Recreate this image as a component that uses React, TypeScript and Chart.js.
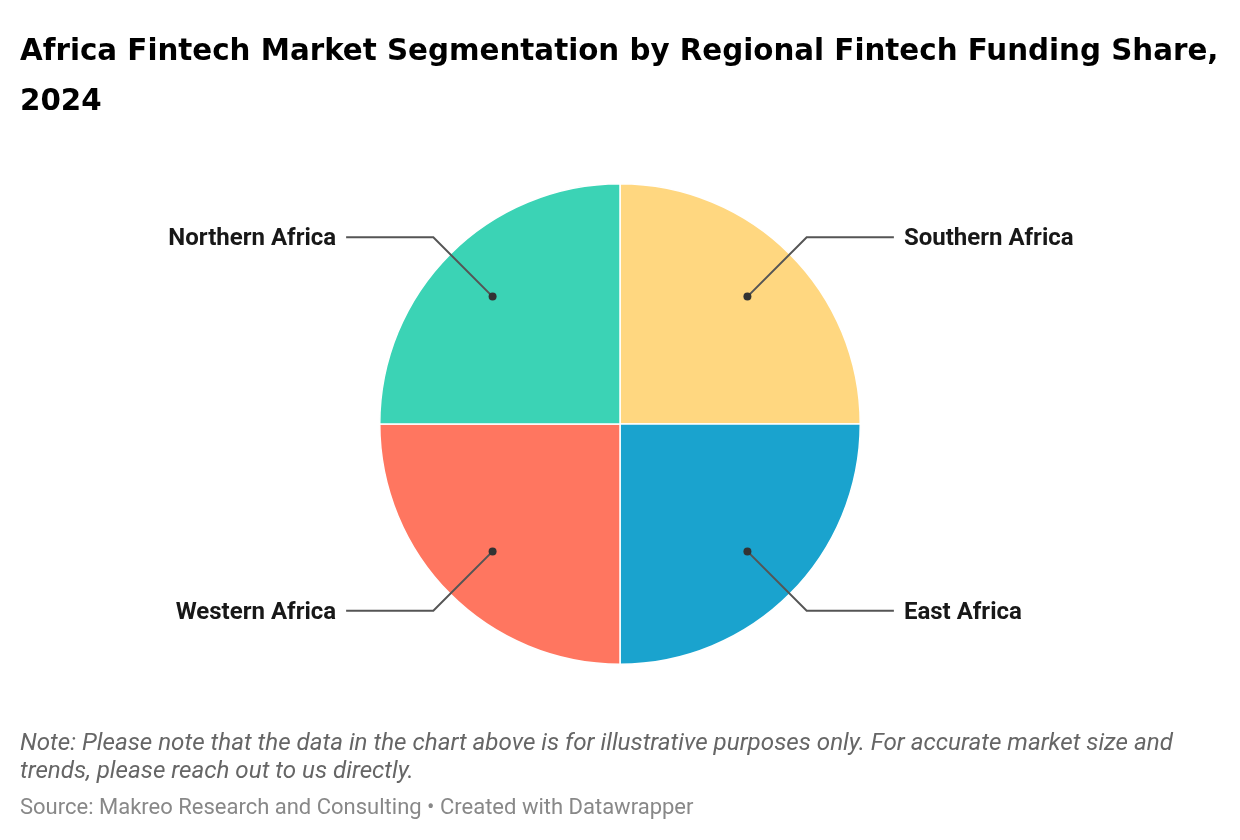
import { useRef, useEffect } from "react";
import { Chart, registerables, type Plugin } from "chart.js";

Chart.register(...registerables);

const REGIONS = ["Southern Africa", "East Africa", "Western Africa", "Northern Africa"];
const SHARES = [25, 25, 25, 25];
const COLORS = ["#FFD780", "#1AA3CE", "#FF7660", "#3BD3B5"];

const TITLE = "Africa Fintech Market Segmentation by Regional Fintech Funding Share, 2024";
const NOTE = "Note: Please note that the data in the chart above is for illustrative purposes only. For accurate market size and trends, please reach out to us directly.";
const SOURCE = "Source: Makreo Research and Consulting • Created with Datawrapper";

// leader lines + outside labels, anchored on each arc's centre
const leaderLabels: Plugin<"pie"> = {
  id: "leaderLabels",
  afterDatasetsDraw(chart) {
    const { ctx } = chart;
    chart.getDatasetMeta(0).data.forEach((el: any, i: number) => {
      const { x, y, outerRadius, startAngle, endAngle } = el;
      const mid = (startAngle + endAngle) / 2;
      const dotX = x + Math.cos(mid) * outerRadius * 0.75;
      const dotY = y + Math.sin(mid) * outerRadius * 0.75;
      const sx = Math.sign(Math.cos(mid));
      const sy = Math.sign(Math.sin(mid));
      const elbowX = x + sx * outerRadius * 0.777;
      const elbowY = y + sy * outerRadius * 0.777;
      const endX = x + sx * outerRadius * 1.14;

      ctx.save();
      ctx.strokeStyle = "#555555";
      ctx.lineWidth = 2;
      ctx.beginPath();
      ctx.moveTo(dotX, dotY);
      ctx.lineTo(elbowX, elbowY);
      ctx.lineTo(endX, elbowY);
      ctx.stroke();

      ctx.fillStyle = "#333333";
      ctx.beginPath();
      ctx.arc(dotX, dotY, 4, 0, Math.PI * 2);
      ctx.fill();

      ctx.fillStyle = "#181818";
      ctx.font = 'bold 24px Roboto, sans-serif';
      ctx.textBaseline = "middle";
      ctx.textAlign = sx > 0 ? "left" : "right";
      ctx.fillText(REGIONS[i], endX + sx * 10, elbowY + 2);
      ctx.restore();
    });
  },
};

export default function App() {
  const ref = useRef<HTMLCanvasElement>(null);

  useEffect(() => {
    if (!ref.current) return;
    const chart = new Chart(ref.current, {
      type: "pie",
      data: {
        labels: REGIONS,
        datasets: [{
          data: SHARES,
          backgroundColor: COLORS,
          borderColor: "#FFFFFF",
          borderWidth: 1.5,
        }],
      },
      options: {
        responsive: false,
        animation: false,
        layout: { padding: { top: 183, bottom: 175, left: 0, right: 0 } },
        plugins: {
          legend: { display: false },
          tooltip: { enabled: false },
          title: { display: false },
        },
      },
      plugins: [leaderLabels],
    });
    return () => { chart.destroy(); };
  }, []);

  return (
    <div style={{ position: "absolute", left: 0, top: 0, width: 1240, height: 840, background: "#FFFFFF", overflow: "hidden" }}>
      <style>{"body { margin: 0; }"}</style>
      <canvas ref={ref} width={1240} height={840} style={{ position: "absolute", left: 0, top: 0 }} />
      <div style={{ position: "absolute", left: 20, top: 25, width: 1205, font: 'bold 29.33px/50px "DejaVu Sans", sans-serif', color: "#000000" }}>
        {TITLE}
      </div>
      <div style={{ position: "absolute", left: 20, top: 728, width: 1200, font: 'italic 24.2px/28px Roboto, sans-serif', color: "#666666" }}>
        {NOTE}
      </div>
      <div style={{ position: "absolute", left: 20, top: 793, width: 1200, font: '22px/28px Roboto, sans-serif', color: "#888888" }}>
        {SOURCE}
      </div>
    </div>
  );
}
